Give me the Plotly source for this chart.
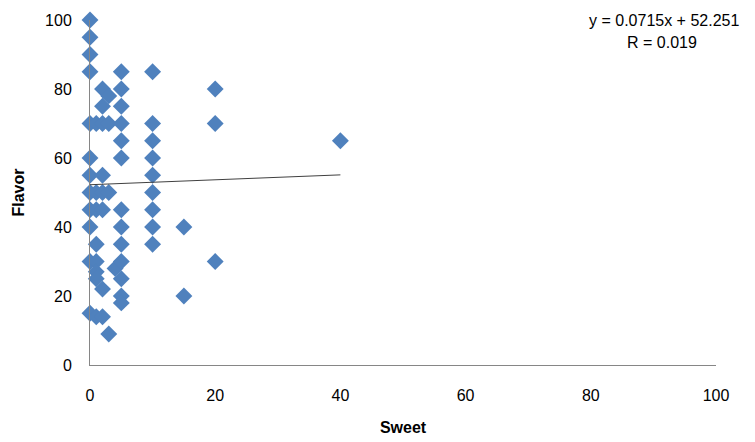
import plotly.graph_objects as go

# Data
sweet = [0, 0, 0, 0, 0, 0, 0, 0, 0, 0, 0, 0,
         1, 1, 1, 1, 1, 1, 1, 1,
         2, 2, 2, 2, 2, 2, 2, 2,
         3, 3, 3, 3, 4,
         5, 5, 5, 5, 5, 5, 5, 5, 5, 5, 5, 5, 5,
         10, 10, 10, 10, 10, 10, 10, 10, 10,
         15, 15,
         20, 20, 20,
         40]
flavor = [100, 95, 90, 85, 70, 60, 55, 50, 45, 40, 30, 15,
          70, 50, 45, 35, 30, 27, 25, 14,
          80, 75, 70, 55, 50, 45, 22, 14,
          78, 70, 50, 9, 28,
          85, 80, 75, 70, 65, 60, 45, 40, 35, 30, 25, 20, 18,
          85, 70, 65, 60, 55, 50, 45, 40, 35,
          40, 20,
          80, 70, 30,
          65]

slope = 0.0715
intercept = 52.251
r_value = 0.019
x_ticks = [0, 20, 40, 60, 80, 100]
y_ticks = [0, 20, 40, 60, 80, 100]

x_fit = [min(sweet), max(sweet)]
y_fit = [slope * v + intercept for v in x_fit]

font_family = "Liberation Sans, Arial, sans-serif"

fig = go.Figure()
fig.add_trace(go.Scatter(
    x=sweet, y=flavor, mode="markers",
    marker=dict(symbol="diamond", size=13, color="#4F81BD"),
    cliponaxis=False, showlegend=False,
))
fig.add_trace(go.Scatter(
    x=x_fit, y=y_fit, mode="lines",
    line=dict(color="#404040", width=1),
    cliponaxis=False, showlegend=False,
))

fig.add_annotation(
    text=f"y = {slope}x + {intercept}",
    xref="paper", yref="paper", x=0.917, y=0.998,
    xanchor="center", yanchor="middle", showarrow=False,
    font=dict(size=16, color="#000000", family=font_family),
)
fig.add_annotation(
    text=f"R = {r_value}",
    xref="paper", yref="paper", x=0.914, y=0.934,
    xanchor="center", yanchor="middle", showarrow=False,
    font=dict(size=16, color="#000000", family=font_family),
)

fig.update_layout(
    width=747, height=434,
    margin=dict(l=82, r=39, t=12, b=77, autoexpand=False),
    paper_bgcolor="white", plot_bgcolor="white",
    font=dict(family=font_family, size=16, color="#000000"),
    xaxis=dict(
        range=[0, 100], tickvals=x_ticks, showgrid=False, zeroline=False,
        showline=True, linecolor="#868686", linewidth=1, ticks="",
        ticklabelstandoff=16, automargin=False,
        title=dict(text="<b>Sweet</b>", standoff=18, font=dict(size=16)),
    ),
    yaxis=dict(
        range=[0, 100], tickvals=y_ticks, showgrid=False, zeroline=False,
        showline=True, linecolor="#868686", linewidth=1, ticks="",
        ticklabelstandoff=14, automargin=False,
        title=dict(text="<b>Flavor</b>", standoff=16, font=dict(size=16)),
    ),
)

fig.write_html("out.html")
